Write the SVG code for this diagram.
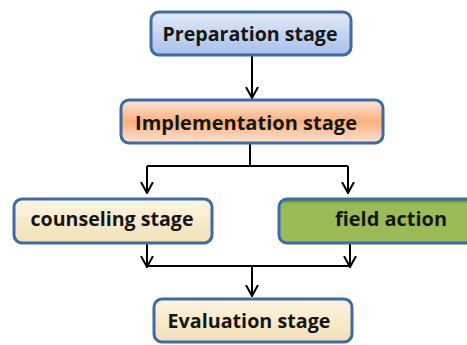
<svg xmlns="http://www.w3.org/2000/svg" width="467" height="345" viewBox="0 0 467 345">
<defs>
<linearGradient id="gBlue" x1="0" y1="0" x2="0" y2="1"><stop offset="0" stop-color="#e3ebf8"/><stop offset="1" stop-color="#a7bfe8"/></linearGradient>
<linearGradient id="gOrange" x1="0" y1="0" x2="0" y2="1"><stop offset="0" stop-color="#fde6dc"/><stop offset="0.5" stop-color="#f9b07c"/><stop offset="1" stop-color="#fde2d4"/></linearGradient>
<linearGradient id="gCream" x1="0" y1="0" x2="0" y2="1"><stop offset="0" stop-color="#fdf5e2"/><stop offset="1" stop-color="#f1dfb6"/></linearGradient>
<linearGradient id="gGreen" x1="0" y1="0" x2="0" y2="1"><stop offset="0" stop-color="#4f8a2e"/><stop offset="0.12" stop-color="#9bbb59"/><stop offset="1" stop-color="#9bbb59"/></linearGradient>
<marker id="arr" viewBox="0 0 12 14" refX="11" refY="7" markerWidth="12" markerHeight="14" markerUnits="userSpaceOnUse" orient="auto">
<path d="M0,1 L11,7 L0,13" fill="none" stroke="#000" stroke-width="2"/>
</marker>
</defs>
<style>
.box{stroke:#3d6ba6;stroke-width:3}
.lbl{font-family:"Open Sans","Liberation Sans",sans-serif;font-weight:bold;font-size:19px;fill:#161616;text-anchor:middle}
.ln{fill:none;stroke:#000;stroke-width:2}
</style>
<g id="connectors">
<path class="ln" d="M252,55 V98" marker-end="url(#arr)"/>
<path class="ln" d="M250,143 V166 M147,166 H348"/>
<path class="ln" d="M147,166 V193" marker-end="url(#arr)"/>
<path class="ln" d="M348,166 V193" marker-end="url(#arr)"/>
<path class="ln" d="M147,243 V267" marker-end="url(#arr)"/>
<path class="ln" d="M350,243 V267" marker-end="url(#arr)"/>
<path class="ln" d="M147,266 H350"/>
<path class="ln" d="M252,266 V296" marker-end="url(#arr)"/>
</g>
<g id="preparation">
<rect class="box" x="151" y="12" width="200" height="43" rx="8" fill="url(#gBlue)"/>
<text class="lbl" x="250" y="41" textLength="175" lengthAdjust="spacingAndGlyphs">Preparation stage</text>
</g>
<g id="implementation">
<rect class="box" x="121" y="100" width="262" height="43" rx="8" fill="url(#gOrange)"/>
<text class="lbl" x="246" y="130" textLength="222" lengthAdjust="spacingAndGlyphs">Implementation stage</text>
</g>
<g id="counseling">
<rect class="box" x="14" y="199" width="198" height="44" rx="8" fill="url(#gCream)"/>
<text class="lbl" x="112" y="226" textLength="163" lengthAdjust="spacingAndGlyphs">counseling stage</text>
</g>
<g id="field">
<rect class="box" x="279" y="199" width="200" height="44" rx="8" fill="url(#gGreen)"/>
<text class="lbl" x="391" y="226" textLength="112" lengthAdjust="spacingAndGlyphs">field action</text>
</g>
<g id="evaluation">
<rect class="box" x="154" y="299" width="198" height="43" rx="8" fill="url(#gCream)"/>
<text class="lbl" x="249" y="328" textLength="163" lengthAdjust="spacingAndGlyphs">Evaluation stage</text>
</g>
</svg>
